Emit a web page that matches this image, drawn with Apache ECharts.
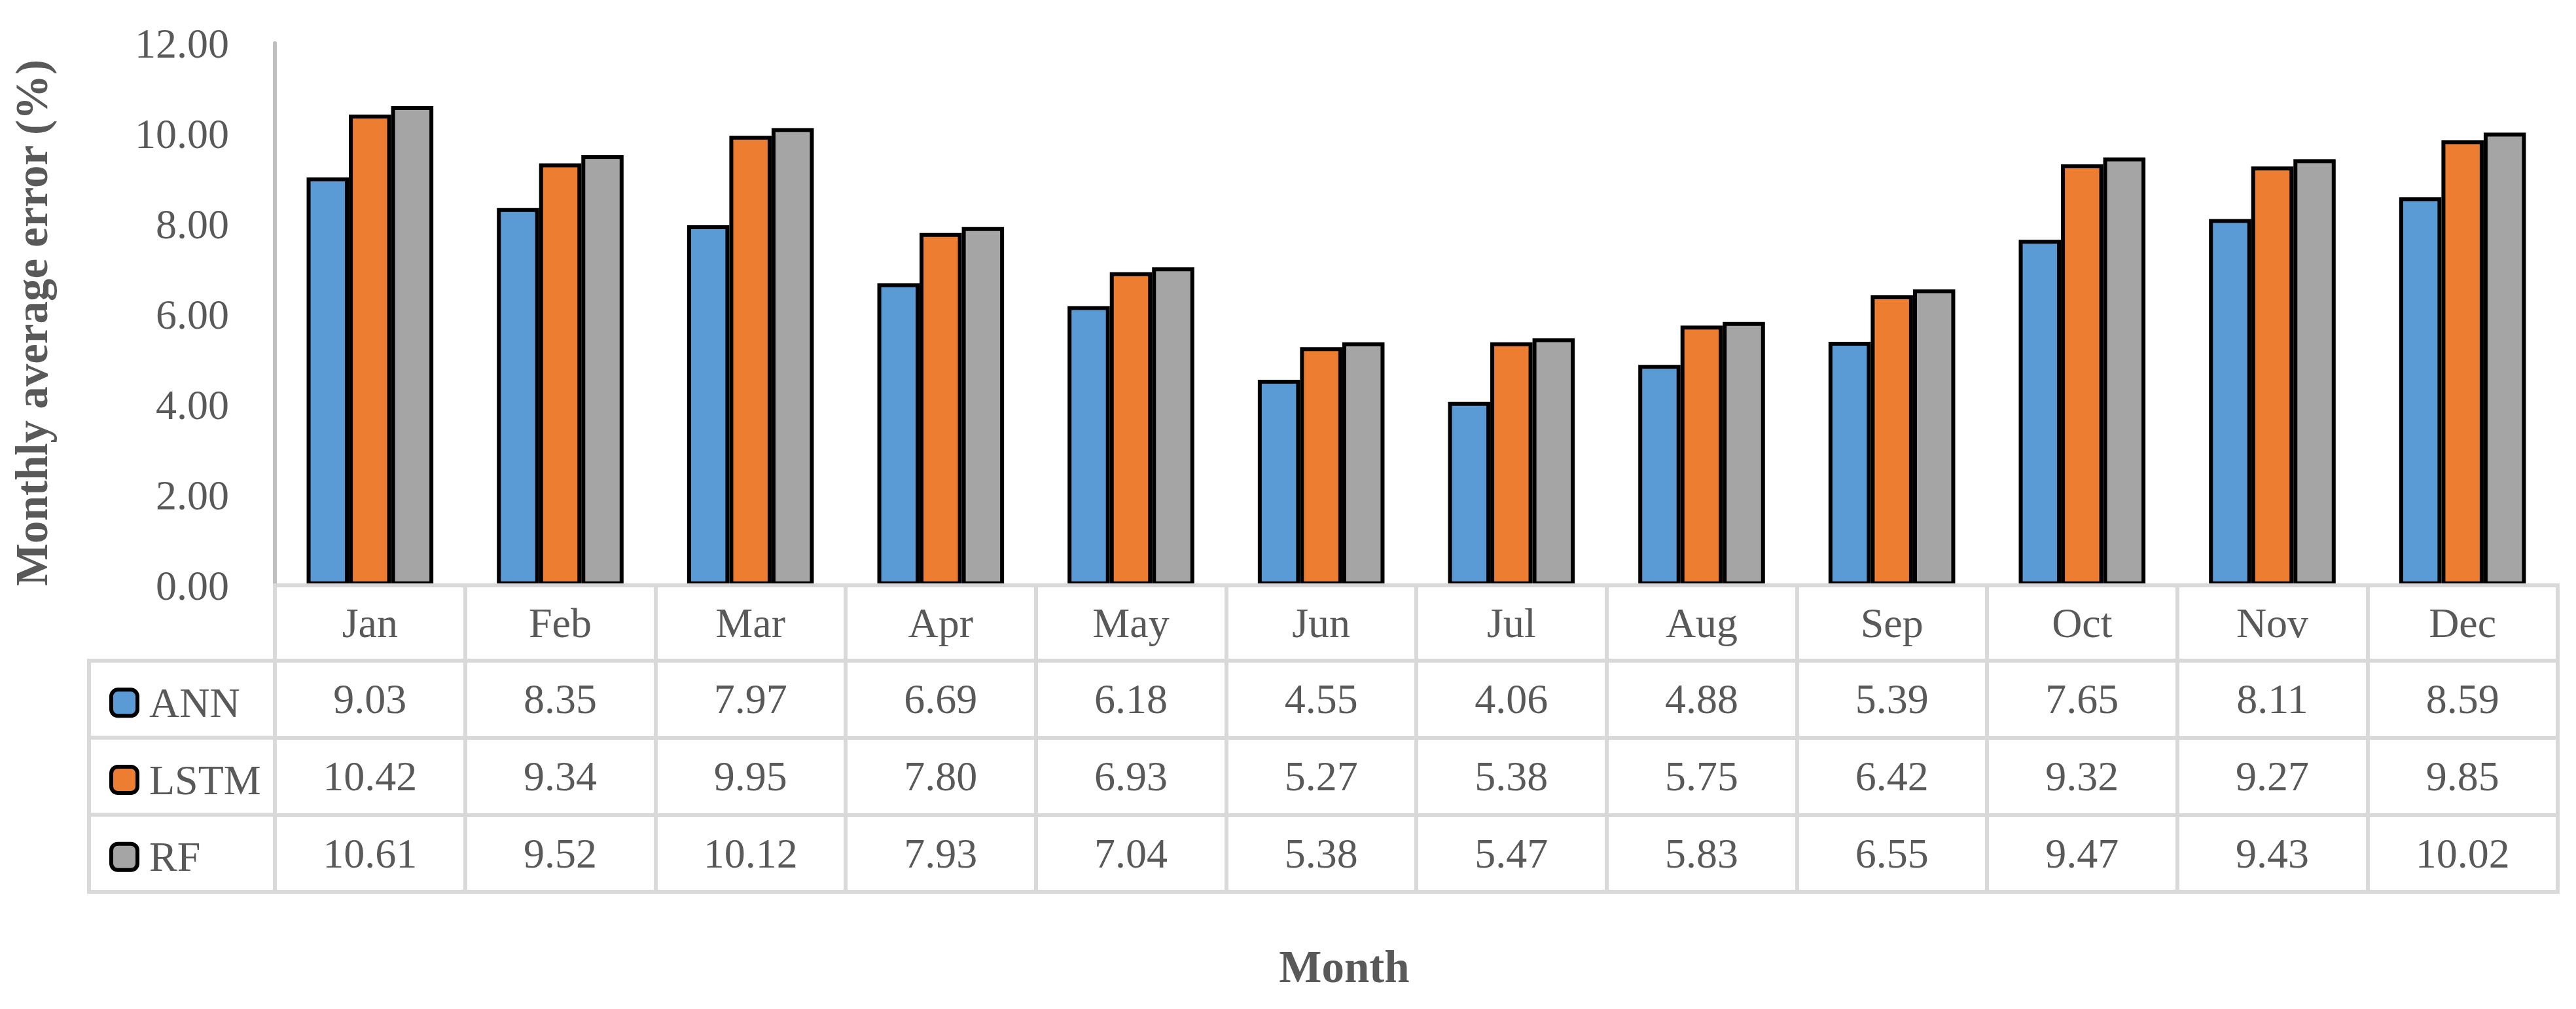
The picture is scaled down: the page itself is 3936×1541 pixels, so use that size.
<!DOCTYPE html>
<html>
<head>
<meta charset="utf-8">
<script src="https://cdn.jsdelivr.net/npm/echarts@6/dist/echarts.min.js"></script>
<style>
html,body{margin:0;padding:0;background:#ffffff;}
#chart{width:3936px;height:1541px;}
</style>
</head>
<body>
<div id="chart"></div>
<script>
// ---------------- data ----------------
const months = ['Jan','Feb','Mar','Apr','May','Jun','Jul','Aug','Sep','Oct','Nov','Dec'];
const seriesNames = ['ANN','LSTM','RF'];
const annValues  = [9.03, 8.35, 7.97, 6.69, 6.18, 4.55, 4.06, 4.88, 5.39, 7.65, 8.11, 8.59];
const lstmValues = [10.42, 9.34, 9.95, 7.80, 6.93, 5.27, 5.38, 5.75, 6.42, 9.32, 9.27, 9.85];
const rfValues   = [10.61, 9.52, 10.12, 7.93, 7.04, 5.38, 5.47, 5.83, 6.55, 9.47, 9.43, 10.02];
const yMin = 0, yMax = 12, yStep = 2;
const yTitle = 'Monthly average error (%)';
const xTitle = 'Month';

// ---------------- layout / style ----------------
const W = 3936, H = 1541;
const gridLeft = 420, gridRight = 28, gridTop = 66, gridBottom = 647;
const zeroY = H - gridBottom;           // baseline of plot / top of table
const headerH = 115, rowH = 117.7;
const tableLeft = 136;
const font = 'Liberation Serif';
const textColor = '#595959';
const tableLine = '#D9D9D9';
const axisLineColor = '#BFBFBF';
const lw = 6;
const colors = ['#5B9BD5', '#ED7D31', '#A5A5A5'];
const fs = 64, titleFs = 69;
const iconSize = 40;

const rows = [annValues, lstmValues, rfValues];
const rowTops = rows.map((_, i) => headerH + rowH * i);
const tableH = headerH + rowH * rows.length;

const baseLabel = {fontSize: fs, fontFamily: font, color: textColor};

const xAxes = [{
  type: 'category', data: months, position: 'bottom', z: 5,
  axisLine: {show: true, lineStyle: {color: tableLine, width: lw, cap: 'square'}},
  axisTick: {show: true, alignWithLabel: false, length: tableH, lineStyle: {color: tableLine, width: lw}},
  axisLabel: Object.assign({interval: 0, margin: headerH / 2, verticalAlign: 'middle'}, baseLabel),
  splitLine: {show: false}
}];
rows.forEach((vals, i) => {
  xAxes.push({
    type: 'category', data: months, position: 'bottom', offset: rowTops[i], z: 5,
    axisLine: {show: true, lineStyle: {color: tableLine, width: lw, cap: 'square'}},
    axisTick: {show: false},
    axisLabel: Object.assign({interval: 0, margin: rowH / 2, verticalAlign: 'middle',
      formatter: (v, idx) => vals[idx].toFixed(2)}, baseLabel),
    splitLine: {show: false}
  });
});
xAxes.push({
  type: 'category', data: months, position: 'bottom', offset: tableH, z: 5,
  axisLine: {show: true, lineStyle: {color: tableLine, width: lw, cap: 'square'}},
  axisTick: {show: false}, axisLabel: {show: false}, splitLine: {show: false}
});

// legend-column lines of the data table
const graphics = [];
rowTops.concat([tableH]).forEach(off => {
  graphics.push({type: 'line', z: 5, silent: true,
    shape: {x1: tableLeft, y1: zeroY + off, x2: gridLeft, y2: zeroY + off},
    style: {stroke: tableLine, lineWidth: lw, lineCap: 'square'}});
});
graphics.push({type: 'line', z: 5, silent: true,
  shape: {x1: tableLeft, y1: zeroY + rowTops[0], x2: tableLeft, y2: zeroY + tableH},
  style: {stroke: tableLine, lineWidth: lw, lineCap: 'square'}});
graphics.push({type: 'text', z: 5, silent: true, x: 2054, y: 1477,
  style: {text: xTitle, font: 'bold ' + titleFs + 'px "' + font + '"', fill: textColor,
          align: 'center', verticalAlign: 'middle'}});

// one legend per table row, so each key sits in its own row
const legendTextH = 59; // approx. height of a legend text box at this font size
const legends = seriesNames.map((n, i) => ({
  orient: 'vertical', left: 162,
  top: zeroY + rowTops[i] + rowH / 2 - 2 - legendTextH / 2,
  itemWidth: iconSize, itemHeight: iconSize, icon: 'roundRect',
  selectedMode: false, data: [n],
  itemStyle: {borderColor: '#000000', borderWidth: lw},
  textStyle: {fontSize: fs, fontFamily: font, color: textColor, padding: [0, 0, 0, 13]}
}));

const chart = echarts.init(document.getElementById('chart'), null, {renderer: 'svg', width: W, height: H});
chart.setOption({
  animation: false,
  backgroundColor: '#ffffff',
  grid: {left: gridLeft, right: gridRight, top: gridTop, bottom: gridBottom, containLabel: false},
  legend: legends,
  xAxis: xAxes,
  yAxis: {
    type: 'value', min: yMin, max: yMax, interval: yStep,
    axisLine: {show: true, lineStyle: {color: axisLineColor, width: lw}},
    axisTick: {show: false}, splitLine: {show: false},
    axisLabel: Object.assign({margin: 70, formatter: v => v.toFixed(2)}, baseLabel),
    name: yTitle, nameLocation: 'middle', nameRotate: 90, nameGap: 337,
    nameTextStyle: {fontSize: titleFs, fontWeight: 'bold', fontFamily: font, color: textColor, padding: [0, 26, 0, 0]}
  },
  graphic: graphics,
  series: seriesNames.map((n, i) => ({
    name: n, type: 'bar', xAxisIndex: 0, yAxisIndex: 0, data: rows[i],
    barGap: '0%', barCategoryGap: '33.4%', z: 2,
    itemStyle: {color: colors[i], borderColor: '#000000', borderWidth: lw},
    emphasis: {disabled: true}
  }))
});
</script>
</body>
</html>
